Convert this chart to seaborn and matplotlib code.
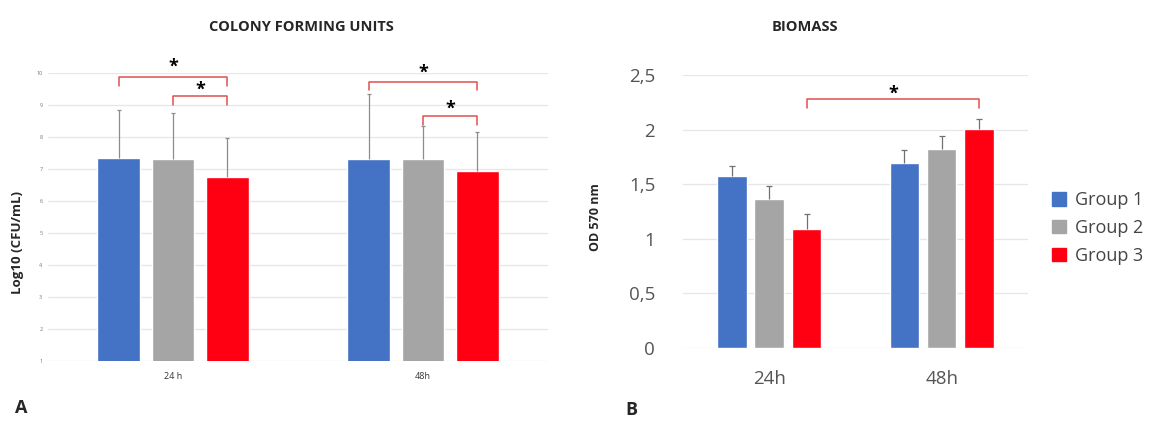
import numpy as np
import pandas as pd
import matplotlib
matplotlib.use("Agg")
import matplotlib.pyplot as plt
import seaborn as sns

# Data
times_a = ["24 h", "48h"]
times_b = ["24h", "48h"]
groups = ["Group 1", "Group 2", "Group 3"]
colors = ["#4472C4", "#A5A5A5", "#FF0013"]

# CFU (log10) means and upper error
cfu_24 = [7.34, 7.32, 6.76]
cfu_48 = [7.30, 7.32, 6.95]
cfu_err_24 = [1.50, 1.43, 1.22]
cfu_err_48 = [2.03, 1.02, 1.22]

# biomass OD 570 nm means and upper error
od_24 = [1.575, 1.36, 1.087]
od_48 = [1.697, 1.82, 2.005]
od_err_24 = [0.092, 0.12, 0.137]
od_err_48 = [0.113, 0.12, 0.092]

sns.set_style("white")
plt.rcParams["font.family"] = ["Open Sans", "DejaVu Sans"]


def long_frame(times, v24, v48, e24, e48):
    rows = []
    for g, a, b, ea, eb in zip(groups, v24, v48, e24, e48):
        rows.append({"time": times[0], "group": g, "value": a, "err": ea})
        rows.append({"time": times[1], "group": g, "value": b, "err": eb})
    return pd.DataFrame(rows)


df_a = long_frame(times_a, cfu_24, cfu_48, cfu_err_24, cfu_err_48)
df_b = long_frame(times_b, od_24, od_48, od_err_24, od_err_48)

fig = plt.figure(figsize=(11.51, 4.21), dpi=100)
ax_a = fig.add_axes([0.0417, 0.1425, 0.4344, 0.684])
ax_b = fig.add_axes([0.5934, 0.1734, 0.2997, 0.6485])


def draw(ax, df, times, errcolor, capsize):
    sns.barplot(data=df, x="time", y="value", hue="group", order=times,
                hue_order=groups, palette=colors, saturation=1, width=0.65,
                gap=0.21, errorbar=None, ax=ax, legend=False, zorder=2)
    centers = {}
    for g, cont in zip(groups, ax.containers):
        sub = df[df.group == g].set_index("time").loc[times]
        xs = [p.get_x() + p.get_width() / 2 for p in cont.patches]
        ys = sub["value"].values
        tops = ys + sub["err"].values
        ax.vlines(xs, ys, tops, color=errcolor, linewidth=0.9, zorder=3)
        ax.plot(xs, tops, linestyle="none", marker="_", markersize=capsize,
                markeredgewidth=0.9, color=errcolor, zorder=3)
        centers[g] = xs
    ax.set_xlim(-0.5, 1.5)
    ax.set_xlabel("")
    ax.set_ylabel("")
    for s in ax.spines.values():
        s.set_visible(False)
    ax.grid(axis="y", color="#E6E6E6", linewidth=0.9, zorder=0)
    ax.set_axisbelow(True)
    ax.tick_params(length=0)
    return centers


def bracket(ax, x1, x2, y, leg, star_y, color="#E0504F"):
    ax.plot([x1, x1, x2, x2], [y - leg, y, y, y - leg], color=color,
            linewidth=1.1, clip_on=False, zorder=4)
    ax.text((x1 + x2) / 2, star_y, "*", ha="center", va="center",
            fontsize=13, fontweight="bold", color="black", clip_on=False)


# Panel A
ca = draw(ax_a, df_a, times_a, "#8C8C8C", 2.5)
ax_a.set_ylim(1, 10)
ax_a.set_yticks(range(1, 11))
ax_a.tick_params(axis="y", labelsize=4, labelcolor="#777777", pad=4)
ax_a.tick_params(axis="x", labelsize=6.5, labelcolor="#333333", pad=8)
bracket(ax_a, ca["Group 1"][0], ca["Group 3"][0], 9.875, 0.28, 10.2)
bracket(ax_a, ca["Group 2"][0], ca["Group 3"][0], 9.28, 0.28, 9.48)
bracket(ax_a, ca["Group 1"][1], ca["Group 3"][1], 9.72, 0.25, 10.02)
bracket(ax_a, ca["Group 2"][1], ca["Group 3"][1], 8.66, 0.28, 8.88)

# Panel B
cb = draw(ax_b, df_b, times_b, "#707070", 4)
ax_b.set_ylim(0, 2.5)
ax_b.set_yticks(np.arange(0, 2.51, 0.5))
ax_b.set_yticklabels(["0", "0,5", "1", "1,5", "2", "2,5"])
ax_b.tick_params(axis="y", labelsize=13.5, labelcolor="#555555", pad=20)
ax_b.tick_params(axis="x", labelsize=13.5, labelcolor="#555555", pad=16)
bracket(ax_b, cb["Group 3"][0], cb["Group 3"][1], 2.277, 0.075, 2.33)

# Titles, axis labels, panel letters
fig.text(0.262, 0.937, "COLONY FORMING UNITS", ha="center", va="center",
         fontsize=10.5, fontweight="bold")
fig.text(0.699, 0.937, "BIOMASS", ha="center", va="center",
         fontsize=10.5, fontweight="bold")
fig.text(0.0156, 0.425, "Log10 (CFU/mL)", rotation=90, ha="center",
         va="center", fontsize=9.5, fontweight="bold")
fig.text(0.517, 0.485, "OD 570 nm", rotation=90, ha="center",
         va="center", fontsize=9, fontweight="bold")
fig.text(0.013, 0.03, "A", ha="left", va="center", fontsize=13,
         fontweight="bold")
fig.text(0.543, 0.026, "B", ha="left", va="center", fontsize=13,
         fontweight="bold")

# Legend
handles = [plt.Rectangle((0, 0), 1, 1, color=c) for c in colors]
fig.legend(handles, groups, loc="center left",
           bbox_to_anchor=(0.9, 0.458), frameon=False, fontsize=13,
           handlelength=0.75, handleheight=0.75, handletextpad=0.5,
           labelspacing=0.55, labelcolor="#444444")

fig.savefig("out.png", dpi=100)
